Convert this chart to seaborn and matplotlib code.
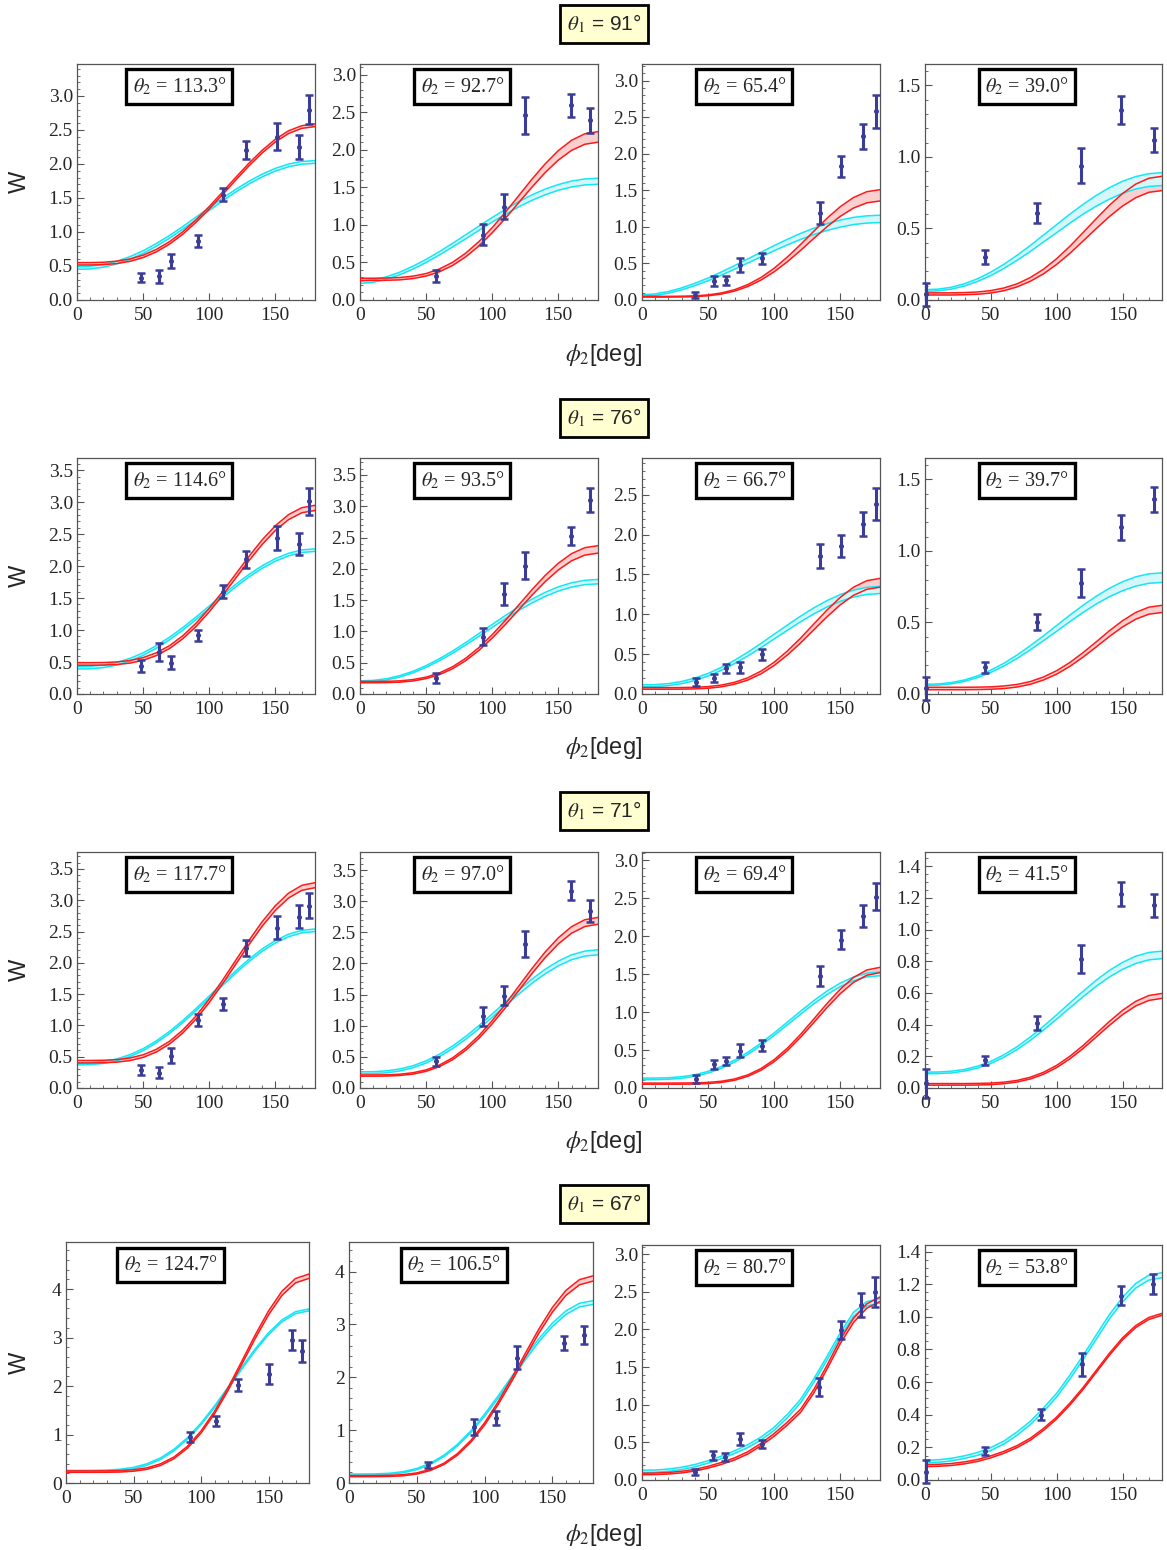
import numpy as np
import pandas as pd
import matplotlib
matplotlib.use("Agg")
import matplotlib.pyplot as plt
import seaborn as sns
from matplotlib.ticker import MultipleLocator, FormatStrFormatter

# ---------------- data ----------------
PHI_GRID = [0, 10, 20, 30, 40, 50, 60, 70, 80, 90, 100, 110, 120, 130, 140, 150, 160, 170, 180]
THETA1 = ["91", "76", "71", "67"]
THETA2 = ["113.3", "92.7", "65.4", "39.0",
          "114.6", "93.5", "66.7", "39.7",
          "117.7", "97.0", "69.4", "41.5",
          "124.7", "106.5", "80.7", "53.8"]

PTS_PHI = [
    [48.7, 61.9, 71.4, 91.4, 110.6, 127.5, 151.2, 167.6, 175.7],
    [57.6, 92.7, 108.6, 124.7, 159.8, 173.7],
    [40.3, 54.1, 63.2, 74.3, 91.1, 134.7, 150.8, 167.2, 177.0],
    [1.0, 45.6, 84.8, 118.7, 149.1, 173.7],
    [48.7, 61.9, 71.4, 91.4, 110.6, 127.5, 151.2, 167.6, 175.7],
    [57.6, 92.7, 108.6, 124.7, 159.8, 173.7],
    [40.8, 54.1, 63.2, 74.3, 91.1, 134.7, 150.8, 167.2, 177.0],
    [1.0, 45.6, 84.8, 118.7, 149.1, 173.7],
    [48.7, 61.9, 71.4, 91.4, 110.6, 127.5, 151.2, 167.6, 175.7],
    [57.6, 92.7, 108.6, 124.7, 159.8, 173.7],
    [40.8, 54.1, 63.2, 74.3, 91.1, 134.7, 150.8, 167.2, 177.0],
    [1.0, 45.6, 84.8, 118.7, 149.1, 173.7],
    [91.6, 110.8, 127.1, 150.7, 167.7, 175.1],
    [58.3, 92.2, 108.4, 123.9, 158.6, 173.4],
    [40.0, 53.5, 62.6, 73.9, 90.5, 134.2, 150.8, 165.9, 176.4],
    [1.0, 45.4, 87.9, 119.0, 148.6, 172.9],
]
PTS_W = [
    [0.33, 0.35, 0.57, 0.87, 1.55, 2.21, 2.40, 2.25, 2.80],
    [0.32, 0.87, 1.24, 2.46, 2.59, 2.39],
    [0.07, 0.26, 0.27, 0.48, 0.57, 1.19, 1.83, 2.24, 2.58],
    [0.04, 0.30, 0.61, 0.94, 1.33, 1.12],
    [0.435, 0.655, 0.487, 0.917, 1.60, 2.106, 2.436, 2.34, 3.01],
    [0.253, 0.915, 1.60, 2.046, 2.52, 3.10],
    [0.146, 0.20, 0.325, 0.333, 0.50, 1.73, 1.86, 2.13, 2.38],
    [0.04, 0.187, 0.504, 0.777, 1.166, 1.36],
    [0.293, 0.24, 0.517, 1.087, 1.343, 2.238, 2.557, 2.738, 2.914],
    [0.428, 1.149, 1.48, 2.314, 3.17, 2.843],
    [0.122, 0.31, 0.353, 0.493, 0.558, 1.474, 1.954, 2.268, 2.52],
    [0.03, 0.174, 0.409, 0.813, 1.226, 1.153],
    [0.95, 1.28, 2.02, 2.25, 2.95, 2.72],
    [0.34, 1.06, 1.23, 2.37, 2.65, 2.80],
    [0.106, 0.33, 0.305, 0.544, 0.48, 1.235, 1.99, 2.32, 2.50],
    [0.05, 0.18, 0.40, 0.71, 1.13, 1.20],
]
PTS_ERR = [
    [0.065, 0.095, 0.10, 0.085, 0.10, 0.13, 0.20, 0.18, 0.21],
    [0.075, 0.14, 0.165, 0.245, 0.15, 0.165],
    [0.04, 0.065, 0.06, 0.10, 0.08, 0.15, 0.14, 0.17, 0.225],
    [0.08, 0.048, 0.071, 0.122, 0.097, 0.084],
    [0.09, 0.14, 0.10, 0.09, 0.105, 0.13, 0.19, 0.17, 0.215],
    [0.08, 0.14, 0.18, 0.215, 0.14, 0.195],
    [0.05, 0.052, 0.056, 0.066, 0.07, 0.154, 0.137, 0.154, 0.20],
    [0.08, 0.038, 0.058, 0.10, 0.086, 0.087],
    [0.08, 0.088, 0.115, 0.10, 0.10, 0.128, 0.184, 0.186, 0.194],
    [0.075, 0.147, 0.155, 0.21, 0.147, 0.175],
    [0.05, 0.065, 0.055, 0.083, 0.07, 0.13, 0.126, 0.146, 0.18],
    [0.09, 0.031, 0.044, 0.09, 0.075, 0.073],
    [0.10, 0.10, 0.13, 0.20, 0.20, 0.22],
    [0.06, 0.15, 0.13, 0.22, 0.13, 0.17],
    [0.04, 0.06, 0.05, 0.08, 0.05, 0.12, 0.12, 0.16, 0.20],
    [0.07, 0.025, 0.035, 0.07, 0.06, 0.06],
]

RED_LO = [
    [0.515, 0.515, 0.52, 0.536, 0.568, 0.624, 0.708, 0.822, 0.967, 1.142, 1.337, 1.549, 1.762, 1.972, 2.161, 2.324, 2.448, 2.524, 2.55],
    [0.26, 0.26, 0.262, 0.268, 0.285, 0.319, 0.375, 0.459, 0.575, 0.72, 0.895, 1.088, 1.295, 1.501, 1.695, 1.862, 1.991, 2.072, 2.10],
    [0.04, 0.04, 0.04, 0.042, 0.046, 0.058, 0.081, 0.122, 0.185, 0.273, 0.387, 0.525, 0.68, 0.844, 1.004, 1.146, 1.259, 1.33, 1.355],
    [0.035, 0.035, 0.035, 0.037, 0.04, 0.049, 0.065, 0.092, 0.131, 0.183, 0.249, 0.326, 0.412, 0.499, 0.583, 0.657, 0.715, 0.753, 0.765],
    [0.45, 0.45, 0.452, 0.461, 0.483, 0.527, 0.601, 0.712, 0.864, 1.055, 1.285, 1.54, 1.811, 2.083, 2.338, 2.557, 2.727, 2.834, 2.87],
    [0.18, 0.18, 0.182, 0.189, 0.208, 0.246, 0.309, 0.404, 0.534, 0.698, 0.894, 1.112, 1.344, 1.577, 1.795, 1.982, 2.128, 2.219, 2.25],
    [0.06, 0.06, 0.06, 0.061, 0.064, 0.072, 0.09, 0.123, 0.175, 0.253, 0.358, 0.49, 0.641, 0.806, 0.97, 1.119, 1.238, 1.313, 1.34],
    [0.03, 0.03, 0.03, 0.03, 0.031, 0.033, 0.038, 0.049, 0.068, 0.098, 0.139, 0.193, 0.258, 0.329, 0.402, 0.469, 0.523, 0.558, 0.57],
    [0.40, 0.40, 0.403, 0.413, 0.438, 0.489, 0.575, 0.703, 0.879, 1.10, 1.366, 1.661, 1.975, 2.289, 2.584, 2.837, 3.035, 3.158, 3.20],
    [0.19, 0.19, 0.192, 0.201, 0.223, 0.268, 0.343, 0.454, 0.607, 0.80, 1.032, 1.289, 1.563, 1.836, 2.093, 2.314, 2.486, 2.593, 2.63],
    [0.05, 0.05, 0.05, 0.05, 0.052, 0.058, 0.073, 0.102, 0.154, 0.234, 0.348, 0.494, 0.67, 0.864, 1.062, 1.244, 1.392, 1.486, 1.52],
    [0.018, 0.018, 0.018, 0.018, 0.019, 0.021, 0.027, 0.038, 0.057, 0.087, 0.129, 0.184, 0.249, 0.322, 0.395, 0.463, 0.518, 0.553, 0.566],
    [0.22, 0.22, 0.22, 0.221, 0.226, 0.243, 0.282, 0.362, 0.502, 0.72, 1.03, 1.428, 1.908, 2.436, 2.974, 3.468, 3.871, 4.128, 4.22],
    [0.12, 0.12, 0.121, 0.124, 0.137, 0.17, 0.236, 0.349, 0.527, 0.775, 1.097, 1.485, 1.922, 2.381, 2.832, 3.232, 3.55, 3.75, 3.82],
    [0.07, 0.072, 0.08, 0.094, 0.119, 0.158, 0.207, 0.266, 0.345, 0.454, 0.582, 0.731, 0.899, 1.157, 1.475, 1.813, 2.092, 2.281, 2.37],
    [0.082, 0.084, 0.089, 0.099, 0.114, 0.136, 0.164, 0.199, 0.244, 0.304, 0.374, 0.459, 0.554, 0.659, 0.764, 0.859, 0.934, 0.984, 1.009],
]
RED_HI = [
    [0.55, 0.55, 0.555, 0.571, 0.603, 0.659, 0.744, 0.858, 1.003, 1.178, 1.374, 1.586, 1.801, 2.011, 2.20, 2.364, 2.488, 2.563, 2.59],
    [0.29, 0.29, 0.292, 0.299, 0.317, 0.352, 0.412, 0.501, 0.624, 0.778, 0.963, 1.168, 1.387, 1.606, 1.811, 1.988, 2.125, 2.211, 2.24],
    [0.05, 0.05, 0.05, 0.052, 0.057, 0.07, 0.096, 0.141, 0.211, 0.308, 0.435, 0.589, 0.761, 0.942, 1.12, 1.278, 1.403, 1.482, 1.51],
    [0.05, 0.05, 0.05, 0.052, 0.056, 0.066, 0.084, 0.113, 0.157, 0.215, 0.289, 0.375, 0.471, 0.568, 0.662, 0.744, 0.81, 0.851, 0.865],
    [0.49, 0.49, 0.492, 0.501, 0.524, 0.569, 0.644, 0.756, 0.911, 1.105, 1.339, 1.598, 1.874, 2.15, 2.409, 2.631, 2.805, 2.913, 2.95],
    [0.20, 0.20, 0.202, 0.21, 0.23, 0.269, 0.336, 0.435, 0.571, 0.743, 0.949, 1.177, 1.421, 1.664, 1.893, 2.089, 2.242, 2.337, 2.37],
    [0.08, 0.08, 0.08, 0.081, 0.084, 0.093, 0.112, 0.147, 0.203, 0.287, 0.399, 0.54, 0.702, 0.879, 1.054, 1.213, 1.34, 1.421, 1.45],
    [0.047, 0.047, 0.047, 0.047, 0.048, 0.05, 0.056, 0.067, 0.087, 0.119, 0.163, 0.22, 0.289, 0.364, 0.442, 0.512, 0.57, 0.607, 0.62],
    [0.44, 0.44, 0.443, 0.453, 0.479, 0.531, 0.618, 0.747, 0.926, 1.15, 1.42, 1.719, 2.038, 2.356, 2.655, 2.912, 3.112, 3.237, 3.28],
    [0.21, 0.21, 0.212, 0.221, 0.245, 0.291, 0.368, 0.484, 0.643, 0.843, 1.083, 1.349, 1.633, 1.917, 2.183, 2.412, 2.591, 2.702, 2.74],
    [0.065, 0.065, 0.065, 0.066, 0.067, 0.074, 0.089, 0.119, 0.173, 0.256, 0.374, 0.526, 0.708, 0.91, 1.115, 1.303, 1.457, 1.555, 1.59],
    [0.028, 0.028, 0.028, 0.028, 0.029, 0.031, 0.037, 0.048, 0.068, 0.099, 0.143, 0.20, 0.268, 0.343, 0.42, 0.49, 0.547, 0.584, 0.597],
    [0.25, 0.25, 0.25, 0.251, 0.257, 0.273, 0.313, 0.395, 0.536, 0.758, 1.072, 1.476, 1.963, 2.499, 3.045, 3.547, 3.956, 4.217, 4.31],
    [0.14, 0.14, 0.141, 0.145, 0.158, 0.191, 0.258, 0.374, 0.556, 0.809, 1.138, 1.535, 1.981, 2.45, 2.911, 3.319, 3.644, 3.848, 3.92],
    [0.09, 0.092, 0.10, 0.116, 0.141, 0.182, 0.233, 0.294, 0.375, 0.486, 0.618, 0.769, 0.941, 1.203, 1.525, 1.867, 2.148, 2.339, 2.43],
    [0.094, 0.096, 0.101, 0.111, 0.126, 0.148, 0.176, 0.211, 0.256, 0.316, 0.386, 0.471, 0.566, 0.671, 0.776, 0.871, 0.946, 0.996, 1.021],
]
CYAN_LO = [
    [0.45, 0.457, 0.483, 0.53, 0.597, 0.684, 0.79, 0.909, 1.04, 1.179, 1.317, 1.456, 1.587, 1.706, 1.81, 1.896, 1.959, 1.997, 2.01],
    [0.22, 0.236, 0.276, 0.336, 0.411, 0.50, 0.599, 0.706, 0.815, 0.928, 1.037, 1.141, 1.239, 1.326, 1.40, 1.46, 1.504, 1.531, 1.54],
    [0.05, 0.063, 0.093, 0.139, 0.197, 0.264, 0.34, 0.422, 0.506, 0.591, 0.675, 0.755, 0.83, 0.896, 0.953, 0.998, 1.033, 1.053, 1.06],
    [0.06, 0.064, 0.076, 0.098, 0.13, 0.171, 0.221, 0.278, 0.34, 0.406, 0.471, 0.537, 0.60, 0.656, 0.705, 0.746, 0.776, 0.794, 0.80],
    [0.39, 0.394, 0.413, 0.453, 0.516, 0.603, 0.716, 0.848, 0.999, 1.163, 1.336, 1.507, 1.674, 1.829, 1.965, 2.077, 2.16, 2.213, 2.23],
    [0.19, 0.197, 0.223, 0.27, 0.338, 0.426, 0.532, 0.652, 0.784, 0.923, 1.063, 1.203, 1.335, 1.454, 1.559, 1.645, 1.708, 1.747, 1.76],
    [0.09, 0.093, 0.105, 0.13, 0.17, 0.226, 0.297, 0.381, 0.477, 0.581, 0.691, 0.80, 0.907, 1.005, 1.092, 1.163, 1.216, 1.249, 1.26],
    [0.06, 0.062, 0.071, 0.088, 0.115, 0.151, 0.196, 0.249, 0.309, 0.373, 0.439, 0.506, 0.57, 0.629, 0.68, 0.722, 0.754, 0.774, 0.78],
    [0.37, 0.374, 0.392, 0.434, 0.501, 0.597, 0.722, 0.872, 1.045, 1.235, 1.435, 1.637, 1.835, 2.019, 2.183, 2.317, 2.417, 2.479, 2.50],
    [0.23, 0.232, 0.244, 0.273, 0.325, 0.401, 0.505, 0.633, 0.784, 0.954, 1.135, 1.323, 1.506, 1.68, 1.834, 1.962, 2.06, 2.119, 2.14],
    [0.11, 0.11, 0.115, 0.128, 0.154, 0.197, 0.259, 0.342, 0.443, 0.562, 0.694, 0.833, 0.974, 1.11, 1.233, 1.336, 1.414, 1.464, 1.48],
    [0.09, 0.091, 0.095, 0.107, 0.126, 0.155, 0.195, 0.243, 0.301, 0.366, 0.435, 0.506, 0.576, 0.642, 0.701, 0.749, 0.786, 0.809, 0.817],
    [0.23, 0.23, 0.231, 0.237, 0.254, 0.293, 0.367, 0.487, 0.665, 0.904, 1.203, 1.555, 1.943, 2.342, 2.723, 3.059, 3.324, 3.494, 3.55],
    [0.15, 0.15, 0.153, 0.165, 0.194, 0.253, 0.352, 0.50, 0.702, 0.958, 1.264, 1.604, 1.967, 2.329, 2.669, 2.962, 3.189, 3.331, 3.38],
    [0.10, 0.103, 0.115, 0.14, 0.174, 0.224, 0.283, 0.352, 0.431, 0.53, 0.659, 0.828, 1.027, 1.296, 1.595, 1.904, 2.173, 2.312, 2.35],
    [0.105, 0.108, 0.117, 0.132, 0.151, 0.181, 0.221, 0.275, 0.34, 0.419, 0.509, 0.618, 0.738, 0.862, 0.987, 1.091, 1.176, 1.225, 1.24],
]
CYAN_HI = [
    [0.49, 0.497, 0.523, 0.57, 0.637, 0.724, 0.83, 0.949, 1.08, 1.219, 1.357, 1.496, 1.627, 1.746, 1.85, 1.936, 1.999, 2.037, 2.05],
    [0.25, 0.267, 0.308, 0.37, 0.449, 0.54, 0.643, 0.754, 0.868, 0.984, 1.098, 1.206, 1.308, 1.398, 1.475, 1.536, 1.583, 1.61, 1.62],
    [0.07, 0.084, 0.116, 0.166, 0.228, 0.301, 0.383, 0.471, 0.562, 0.654, 0.745, 0.831, 0.912, 0.983, 1.045, 1.094, 1.131, 1.152, 1.16],
    [0.072, 0.076, 0.089, 0.114, 0.149, 0.195, 0.25, 0.313, 0.381, 0.454, 0.527, 0.60, 0.668, 0.731, 0.785, 0.83, 0.863, 0.883, 0.89],
    [0.43, 0.434, 0.453, 0.493, 0.556, 0.643, 0.756, 0.888, 1.039, 1.203, 1.376, 1.547, 1.714, 1.869, 2.005, 2.117, 2.20, 2.253, 2.27],
    [0.21, 0.218, 0.244, 0.293, 0.362, 0.453, 0.563, 0.686, 0.822, 0.967, 1.111, 1.255, 1.391, 1.514, 1.623, 1.712, 1.777, 1.816, 1.83],
    [0.115, 0.118, 0.13, 0.157, 0.20, 0.258, 0.334, 0.423, 0.524, 0.634, 0.75, 0.865, 0.977, 1.081, 1.172, 1.248, 1.303, 1.338, 1.35],
    [0.068, 0.07, 0.08, 0.098, 0.127, 0.167, 0.215, 0.273, 0.338, 0.407, 0.479, 0.551, 0.62, 0.683, 0.739, 0.785, 0.819, 0.84, 0.847],
    [0.40, 0.404, 0.423, 0.464, 0.532, 0.628, 0.753, 0.904, 1.078, 1.269, 1.47, 1.673, 1.872, 2.056, 2.221, 2.356, 2.457, 2.519, 2.54],
    [0.26, 0.262, 0.275, 0.305, 0.357, 0.436, 0.542, 0.674, 0.828, 1.003, 1.189, 1.381, 1.569, 1.748, 1.906, 2.038, 2.138, 2.198, 2.22],
    [0.13, 0.131, 0.135, 0.149, 0.175, 0.219, 0.283, 0.367, 0.47, 0.592, 0.726, 0.869, 1.013, 1.152, 1.278, 1.383, 1.463, 1.513, 1.53],
    [0.10, 0.101, 0.106, 0.117, 0.138, 0.168, 0.21, 0.261, 0.322, 0.39, 0.462, 0.537, 0.61, 0.68, 0.742, 0.793, 0.832, 0.856, 0.864],
    [0.26, 0.26, 0.261, 0.267, 0.284, 0.323, 0.397, 0.518, 0.696, 0.936, 1.236, 1.589, 1.978, 2.378, 2.761, 3.097, 3.364, 3.533, 3.59],
    [0.17, 0.17, 0.173, 0.185, 0.215, 0.275, 0.375, 0.525, 0.731, 0.99, 1.302, 1.647, 2.015, 2.383, 2.728, 3.025, 3.257, 3.401, 3.45],
    [0.13, 0.133, 0.145, 0.17, 0.206, 0.256, 0.317, 0.388, 0.469, 0.57, 0.701, 0.872, 1.073, 1.344, 1.645, 1.956, 2.227, 2.368, 2.41],
    [0.121, 0.124, 0.133, 0.148, 0.169, 0.199, 0.239, 0.295, 0.36, 0.441, 0.531, 0.642, 0.762, 0.888, 1.013, 1.119, 1.204, 1.255, 1.27],
]

Y_MAX = [3.47, 3.14, 3.23, 1.65,
         3.69, 3.77, 2.96, 1.65,
         3.77, 3.79, 3.11, 1.49,
         4.97, 4.56, 3.12, 1.44]
Y_STEP = [0.5, 0.5, 0.5, 0.5,
          0.5, 0.5, 0.5, 0.5,
          0.5, 0.5, 0.5, 0.2,
          1.0, 1.0, 0.5, 0.2]

# ---------------- layout (pixels) ----------------
W_PX, H_PX = 1167, 1550
COLS_X = [(77, 315), (360, 598), (642, 880), (925, 1162)]
ROWS_Y = [(64, 300), (458, 694), (852, 1088)]
ROW4_X = [(66, 309), (349, 593), (642, 880), (925, 1162)]
ROW4_Y = [(1242, 1483), (1242, 1483), (1245, 1480), (1245, 1480)]
TITLE_Y = [24, 418, 811, 1204]
XLABEL_Y = [355, 748, 1142, 1535]

RED = "#ff1a1a"
RED_FILL = "#f9cfcf"
CYAN = "#14e6f5"
CYAN_FILL = "#d6f7fa"
PT_COLOR = "#3b3b98"
FRAME = "#555555"

sns.set_theme(style="ticks")
plt.rcParams["font.family"] = ["Liberation Serif", "DejaVu Serif"]
plt.rcParams["mathtext.fontset"] = "stix"

fig = plt.figure(figsize=(W_PX / 100, H_PX / 100), dpi=100)
fig.patch.set_facecolor("white")

for i in range(16):
    r, c = divmod(i, 4)
    if r < 3:
        x0, x1 = COLS_X[c]
        y0, y1 = ROWS_Y[r]
    else:
        x0, x1 = ROW4_X[c]
        y0, y1 = ROW4_Y[c]
    ax = fig.add_axes([x0 / W_PX, 1 - y1 / H_PX, (x1 - x0) / W_PX, (y1 - y0) / H_PX])
    ax.set_facecolor("white")

    ax.fill_between(PHI_GRID, RED_LO[i], RED_HI[i], color=RED_FILL, lw=0, zorder=1)
    ax.fill_between(PHI_GRID, CYAN_LO[i], CYAN_HI[i], color=CYAN_FILL, lw=0, zorder=1)
    for vals in (CYAN_LO[i], CYAN_HI[i]):
        sns.lineplot(x=PHI_GRID, y=vals, ax=ax, color=CYAN, lw=1.1, zorder=2)
    for vals in (RED_LO[i], RED_HI[i]):
        sns.lineplot(x=PHI_GRID, y=vals, ax=ax, color=RED, lw=1.1, zorder=3)

    ax.errorbar(PTS_PHI[i], PTS_W[i], yerr=PTS_ERR[i], fmt="o", ms=2.6,
                color=PT_COLOR, ecolor=PT_COLOR, elinewidth=2.2, capsize=3.2,
                capthick=1.8, zorder=5, clip_on=False)

    ax.set_xlim(0, 180)
    ax.set_ylim(0, Y_MAX[i])
    ax.xaxis.set_major_locator(MultipleLocator(50))
    ax.xaxis.set_minor_locator(MultipleLocator(10))
    step = Y_STEP[i]
    ax.yaxis.set_major_locator(MultipleLocator(step))
    ax.yaxis.set_minor_locator(MultipleLocator(step / 5 if step != 0.2 else 0.05))
    ax.yaxis.set_major_formatter(FormatStrFormatter("%d" if step >= 1 else "%.1f"))
    ax.tick_params(which="major", direction="in", length=5, width=0.8, color=FRAME,
                   labelsize=14, top=False, right=False)
    ax.tick_params(axis="x", which="major", pad=5)
    ax.tick_params(axis="y", which="major", pad=3)
    ax.tick_params(which="minor", direction="in", length=2.5, width=0.6, color=FRAME,
                   top=False, right=False)
    for sp in ax.spines.values():
        sp.set_color(FRAME)
        sp.set_linewidth(0.9)
    ax.set_xlabel("")
    ax.set_ylabel("")

    ax.text(0.43, 0.905, r"$\theta_2$ = " + THETA2[i] + "°", transform=ax.transAxes,
            ha="center", va="center", fontsize=14.5, zorder=10,
            bbox=dict(boxstyle="square,pad=0.32", fc="white", ec="black", lw=2.4))

    if c == 0:
        yc = (y0 + y1) / 2
        fig.text(20 / W_PX, 1 - yc / H_PX, "W", rotation=90, ha="center", va="center",
                 fontsize=17, family=["Liberation Sans", "DejaVu Sans"])

for r in range(4):
    fig.text(604 / W_PX, 1 - TITLE_Y[r] / H_PX, r"$\theta_1$ = " + THETA1[r] + "°",
             ha="center", va="center", fontsize=15,
             family=["Liberation Sans", "DejaVu Sans"],
             bbox=dict(boxstyle="square,pad=0.35", fc="#ffffd2", ec="black", lw=2.0))
    fig.text(604 / W_PX, 1 - XLABEL_Y[r] / H_PX, r"$\phi_2$[deg]",
             ha="center", va="center", fontsize=17,
             family=["Liberation Sans", "DejaVu Sans"])

fig.savefig("out.png", dpi=100, facecolor="white")
